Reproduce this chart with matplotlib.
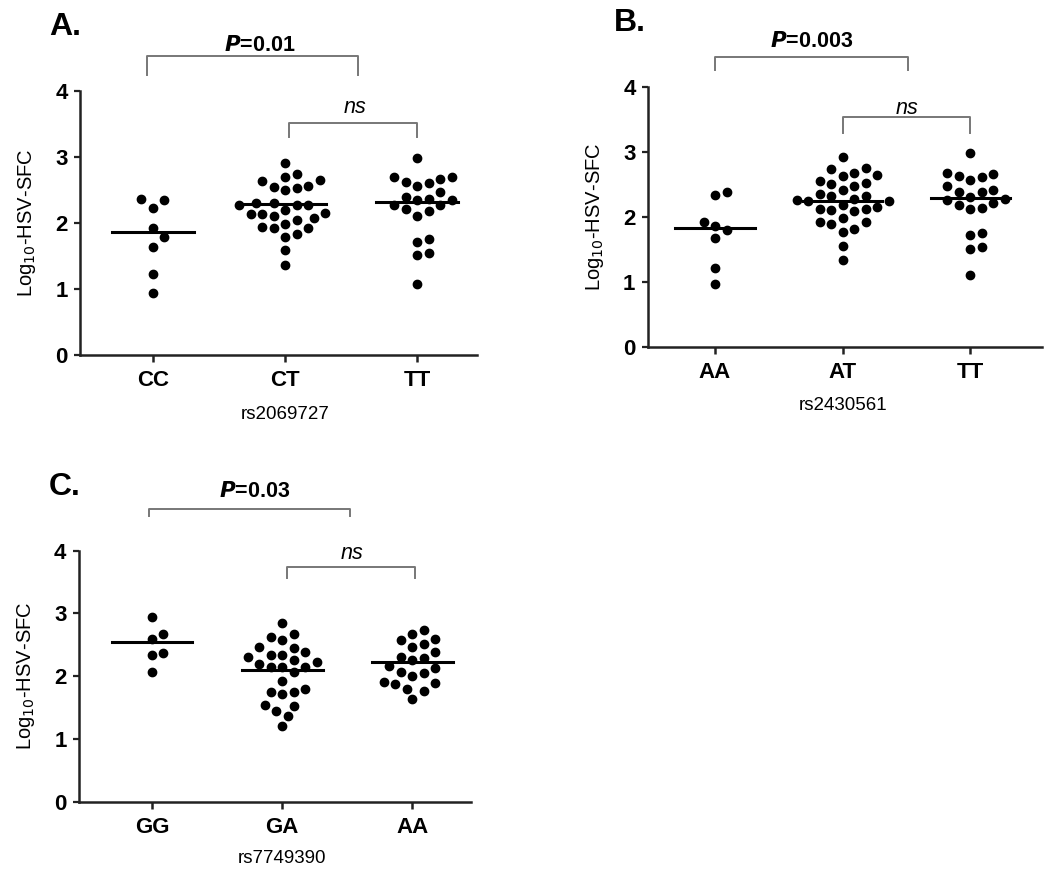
import matplotlib
matplotlib.use("Agg")
import matplotlib.pyplot as plt
import numpy as np

plt.rcParams["font.family"] = ["Liberation Sans", "DejaVu Sans"]

# Panel A - rs2069727
a_cats = ["CC", "CT", "TT"]
a_cc = [2.36, 2.34, 2.22, 1.92, 1.79, 1.64, 1.23, 0.94]
a_ct = [2.90, 2.74, 2.64, 2.56, 2.53, 2.49, 2.54, 2.65, 2.69,
        2.30, 2.27, 2.20, 2.27, 2.27, 2.30,
        2.14, 2.13, 2.05, 2.08, 2.11, 2.15,
        1.93, 1.92, 1.99, 1.83, 1.92, 1.79, 1.59, 1.36]
a_tt = [2.98, 2.69, 2.66, 2.62, 2.56, 2.61, 2.70, 2.47,
        2.27, 2.36, 2.35, 2.35, 2.39, 2.27, 2.18, 2.21, 2.11,
        1.71, 1.75, 1.55, 1.52, 1.08]
a_mid = [1.86, 2.28, 2.32]

# Panel B - rs2430561
b_cats = ["AA", "AT", "TT"]
b_aa = [2.34, 2.38, 1.86, 1.92, 1.80, 1.67, 1.22, 0.96]
b_at = [2.92, 2.75, 2.74, 2.68, 2.63, 2.65, 2.53, 2.48, 2.51, 2.56, 2.42,
        2.35, 2.32, 2.25, 2.27, 2.24, 2.26, 2.33,
        2.15, 2.13, 2.09, 2.11, 2.13, 2.19,
        1.93, 1.89, 1.98, 1.93, 1.77, 1.82, 1.55, 1.34]
b_tt = [2.98, 2.66, 2.62, 2.57, 2.63, 2.68, 2.41, 2.38, 2.38, 2.48,
        2.26, 2.22, 2.14, 2.12, 2.19, 2.28, 2.31,
        1.72, 1.76, 1.54, 1.51, 1.10]
b_mid = [1.83, 2.25, 2.29]

# Panel C - rs7749390
c_cats = ["GG", "GA", "AA"]
c_gg = [2.94, 2.68, 2.60, 2.37, 2.33, 2.06]
c_ga = [2.85, 2.62, 2.67, 2.58, 2.45, 2.46, 2.34, 2.34, 2.38, 2.30,
        2.26, 2.19, 2.23, 2.15, 2.15, 2.14, 2.07, 1.93,
        1.71, 1.75, 1.80, 1.75, 1.53, 1.45, 1.54, 1.37, 1.20]
c_aa = [2.74, 2.68, 2.60, 2.57, 2.51, 2.47, 2.39,
        2.29, 2.31, 2.26, 2.16, 2.13,
        2.00, 2.05, 2.07, 1.91, 1.79, 1.89, 1.88, 1.77, 1.63]
c_mid = [2.55, 2.10, 2.23]


def swarm(vals, xpx, ypx, gap=11.5):
    # simple beeswarm in pixel space, returns x offsets in data units
    order = np.argsort(vals)
    placed = []
    offs = np.zeros(len(vals))
    for i in order:
        y = vals[i] * ypx
        best = None
        for k in range(0, 30):
            for s in ([0] if k == 0 else [1, -1]):
                x = s * k * gap / 2
                if all((x - px) ** 2 + (y - py) ** 2 >= gap ** 2 for px, py in placed):
                    best = x
                    break
            if best is not None:
                break
        placed.append((best, y))
        offs[i] = best / xpx
    return offs


fig = plt.figure(figsize=(10.5, 8.75), dpi=100)


def panel(rect, xlim, cats, groups, mids, snp, pbr, ptxt, nsbr, nstxt, letter, lpos):
    ax = fig.add_axes(rect)
    ax.set_xlim(*xlim)
    ax.set_ylim(0, 4)
    W = rect[2] * 1050
    H = rect[3] * 875
    xpx = W / (xlim[1] - xlim[0])
    ypx = H / 4.0
    for i, g in enumerate(groups):
        g = np.array(g)
        off = swarm(g, xpx, ypx)
        ax.scatter(i + off, g, s=36, color="black", zorder=3, clip_on=False)
        ax.plot([i - 0.31, i + 0.31], [mids[i], mids[i]], color="black", lw=2.2, zorder=4)
    for sp in ["top", "right"]:
        ax.spines[sp].set_visible(False)
    for sp in ["left", "bottom"]:
        ax.spines[sp].set_linewidth(1.8)
        ax.spines[sp].set_color("#222222")
    ax.set_xticks(range(len(cats)))
    ax.set_xticklabels(cats, fontsize=16, fontweight="bold")
    ax.set_yticks([0, 1, 2, 3, 4])
    ax.set_yticklabels(["0", "1", "2", "3", "4"], fontsize=16, fontweight="bold")
    ax.tick_params(axis="x", length=5, width=1.8, pad=6, color="#222222")
    ax.tick_params(axis="y", length=4, width=1.6, pad=5, color="#222222")
    ax.set_ylabel(r"Log$_{10}$-HSV-SFC", fontsize=14.5, labelpad=12)
    ax.annotate(snp, xy=(1, -0.225), xycoords=("data", "axes fraction"),
                ha="center", va="center", fontsize=13.5)
    # significance brackets
    x0, x1, yt, yb = pbr
    ax.plot([x0, x0, x1, x1], [yb, yt, yt, yb], color="#777777", lw=1.4, clip_on=False)
    ax.text(ptxt[0], ptxt[1], ptxt[2], ha="center", va="center", fontsize=15.5,
            fontweight="bold")
    x0, x1, yt, yb = nsbr
    ax.plot([x0, x0, x1, x1], [yb, yt, yt, yb], color="#777777", lw=1.4, clip_on=False)
    ax.text(nstxt[0], nstxt[1], "ns", ha="center", va="center", fontsize=15.5,
            style="italic")
    fig.text(lpos[0], lpos[1], letter, ha="center", va="center", fontsize=23,
             fontweight="bold")
    return ax


panel([80 / 1050, 1 - 355 / 875, 397 / 1050, 264.3 / 875], (-0.55, 2.45),
      a_cats, [a_cc, a_ct, a_tt], a_mid, "rs2069727",
      (-0.04, 1.55, 4.52, 4.24), (0.81, 4.69, r"$\boldsymbol{P}$=0.01"),
      (1.03, 2.0, 3.51, 3.30), (1.53, 3.74), "A.", (65 / 1050, 1 - 27 / 875))

panel([648 / 1050, 1 - 346.7 / 875, 394 / 1050, 259.4 / 875], (-0.525, 2.56),
      b_cats, [b_aa, b_at, b_tt], b_mid, "rs2430561",
      (0.0, 1.51, 4.47, 4.26), (0.76, 4.71, r"$\boldsymbol{P}$=0.003"),
      (1.0, 2.0, 3.54, 3.30), (1.50, 3.68), "B.", (630 / 1050, 1 - 23 / 875))

panel([79 / 1050, 1 - 801.7 / 875, 392 / 1050, 251 / 875], (-0.56, 2.45),
      c_cats, [c_gg, c_ga, c_aa], c_mid, "rs7749390",
      (-0.02, 1.52, 4.66, 4.55), (0.79, 4.94, r"$\boldsymbol{P}$=0.03"),
      (1.04, 2.02, 3.74, 3.57), (1.54, 3.96), "C.", (65 / 1050, 1 - 487 / 875))

fig.savefig("out.png", dpi=100)
